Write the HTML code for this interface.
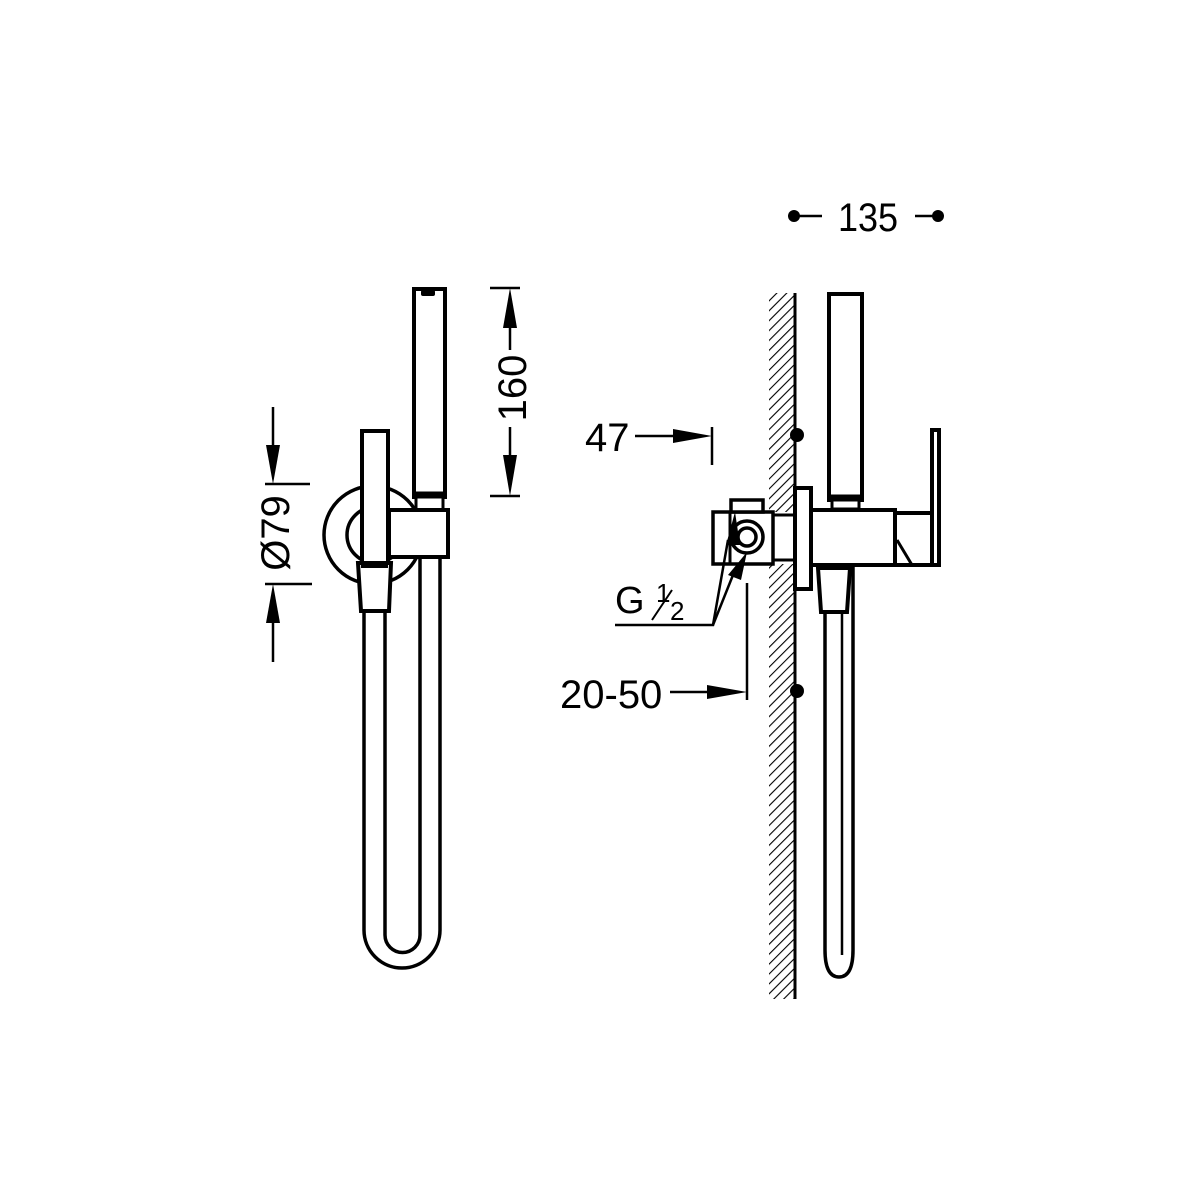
<!DOCTYPE html>
<html><head><meta charset="utf-8"><style>
html,body{margin:0;padding:0;background:#fff;}
svg{display:block;}
text{font-family:"Liberation Sans Narrow","Liberation Sans",sans-serif;fill:#000;}
</style></head><body>
<svg width="1200" height="1200" viewBox="0 0 1200 1200" xmlns="http://www.w3.org/2000/svg">
<defs>
<pattern id="h" patternUnits="userSpaceOnUse" width="7" height="7" patternTransform="rotate(45)">
<line x1="0" y1="0" x2="0" y2="7" stroke="#000" stroke-width="2.2"/>
</pattern>
</defs>
<rect width="1200" height="1200" fill="#fff"/>
<g fill="none" stroke="#000" stroke-width="4">
<path d="M364 612 V930 A38 38 0 0 0 440 930 V557" stroke-width="3.5"/>
<path d="M385 612 V935 A17.5 17.5 0 0 0 420 935 V557" stroke-width="3.5"/>
<circle cx="373" cy="535" r="49" stroke-width="3.5"/>
<circle cx="375" cy="535" r="28" stroke-width="3.5"/>
<rect x="414" y="289" width="31" height="208" fill="#fff"/>
<line x1="416" y1="494" x2="443" y2="494" stroke-width="5"/>
<rect x="416" y="497" width="27" height="13" fill="#fff" stroke-width="3"/>
<rect x="389" y="510" width="59" height="47" fill="#fff"/>
<rect x="362" y="431" width="26" height="132" fill="#fff"/>
<polygon points="358,563 391,563 389,611 361,611" fill="#fff"/>
<line x1="361" y1="566" x2="388" y2="566" stroke-width="4"/>
</g>
<rect x="421" y="290" width="14" height="6" rx="2" fill="#000"/>
<g stroke="#000" stroke-width="2.5">
<line x1="273" y1="407" x2="273" y2="450"/>
<line x1="265" y1="484" x2="310" y2="484"/>
<line x1="265" y1="584" x2="312" y2="584"/>
<line x1="273" y1="620" x2="273" y2="662"/>
<line x1="510" y1="320" x2="510" y2="350"/>
<line x1="510" y1="427" x2="510" y2="460"/>
<line x1="490" y1="288" x2="520" y2="288"/>
<line x1="490" y1="496" x2="520" y2="496"/>
</g>
<polygon points="266,445 280,445 273,484" fill="#000"/>
<polygon points="266,623 280,623 273,584" fill="#000"/>
<polygon points="503,328 517,328 510,288" fill="#000"/>
<polygon points="503,455 517,455 510,496" fill="#000"/>
<text transform="translate(289,533) rotate(-90)" font-size="40" text-anchor="middle">Ø79</text>
<text transform="translate(526,388) rotate(-90)" font-size="40" text-anchor="middle">160</text>

<rect x="769" y="293" width="26" height="706" fill="url(#h)"/>
<rect x="768" y="512" width="28" height="52" fill="#fff"/>
<line x1="795" y1="293" x2="795" y2="999" stroke="#000" stroke-width="3"/>
<g fill="none" stroke="#000" stroke-width="4">
<path d="M825 612 V950 Q825 977 839 977 Q853 977 853 950 V565" fill="#fff" stroke-width="3.5"/>
<line x1="842" y1="612" x2="842" y2="955" stroke-width="2.5"/>
<polygon points="818,568 850,568 847,612 821,612" fill="#fff"/>
<rect x="829" y="294" width="33" height="206" fill="#fff"/>
<line x1="831" y1="497" x2="860" y2="497" stroke-width="5"/>
<rect x="832" y="500" width="27" height="9" fill="#fff" stroke-width="3"/>
<rect x="811" y="510" width="84" height="55" fill="#fff"/>
<rect x="895" y="513" width="41" height="52" fill="#fff"/>
<path d="M897 540 L912 565" stroke-width="3"/>
<rect x="932" y="430" width="7" height="135" fill="#fff"/>
<rect x="795" y="488" width="16" height="101" fill="#fff"/>
<path d="M773 515 H795 M773 560 H795" stroke-width="3"/>
<rect x="713" y="512" width="60" height="52" fill="#fff" stroke-width="3.5"/>
<rect x="731" y="500" width="32" height="12" fill="#fff" stroke-width="3.5"/>
<line x1="730" y1="512" x2="730" y2="564" stroke-width="3"/>
<circle cx="747" cy="537" r="16" stroke-width="3.5"/>
<circle cx="747" cy="537" r="9" stroke-width="3.5"/>
</g>
<circle cx="797" cy="435" r="7" fill="#000"/>
<circle cx="797" cy="691" r="7" fill="#000"/>
<circle cx="794" cy="216" r="6" fill="#000"/>
<circle cx="938" cy="216" r="6" fill="#000"/>
<g stroke="#000" stroke-width="2.5">
<line x1="794" y1="216" x2="822" y2="216"/>
<line x1="915" y1="216" x2="938" y2="216"/>
<line x1="635" y1="436" x2="680" y2="436"/>
<line x1="712" y1="427" x2="712" y2="465"/>
<line x1="670" y1="692" x2="710" y2="692"/>
<line x1="747" y1="583" x2="747" y2="700"/>
<polyline points="615,625 713,625 728,540" fill="none"/>
<line x1="713" y1="625" x2="735" y2="570"/>
</g>
<polygon points="673,429 673,443 712,436" fill="#000"/>
<polygon points="707,685 707,699 747,692" fill="#000"/>
<polygon points="726,545 740,545 735,512" fill="#000"/>
<polygon points="728,575 741,580 747,552" fill="#000"/>
<text transform="translate(868,231) scale(0.9,1)" font-size="40" text-anchor="middle">135</text>
<text x="585" y="451" font-size="40">47</text>
<text x="615" y="613" font-size="38">G</text>
<text x="656" y="602" font-size="26">1</text>
<line x1="652" y1="620" x2="672" y2="590" stroke="#000" stroke-width="2"/>
<text x="670" y="620" font-size="26">2</text>
<text x="560" y="708" font-size="40">20-50</text>
</svg>
</body></html>
